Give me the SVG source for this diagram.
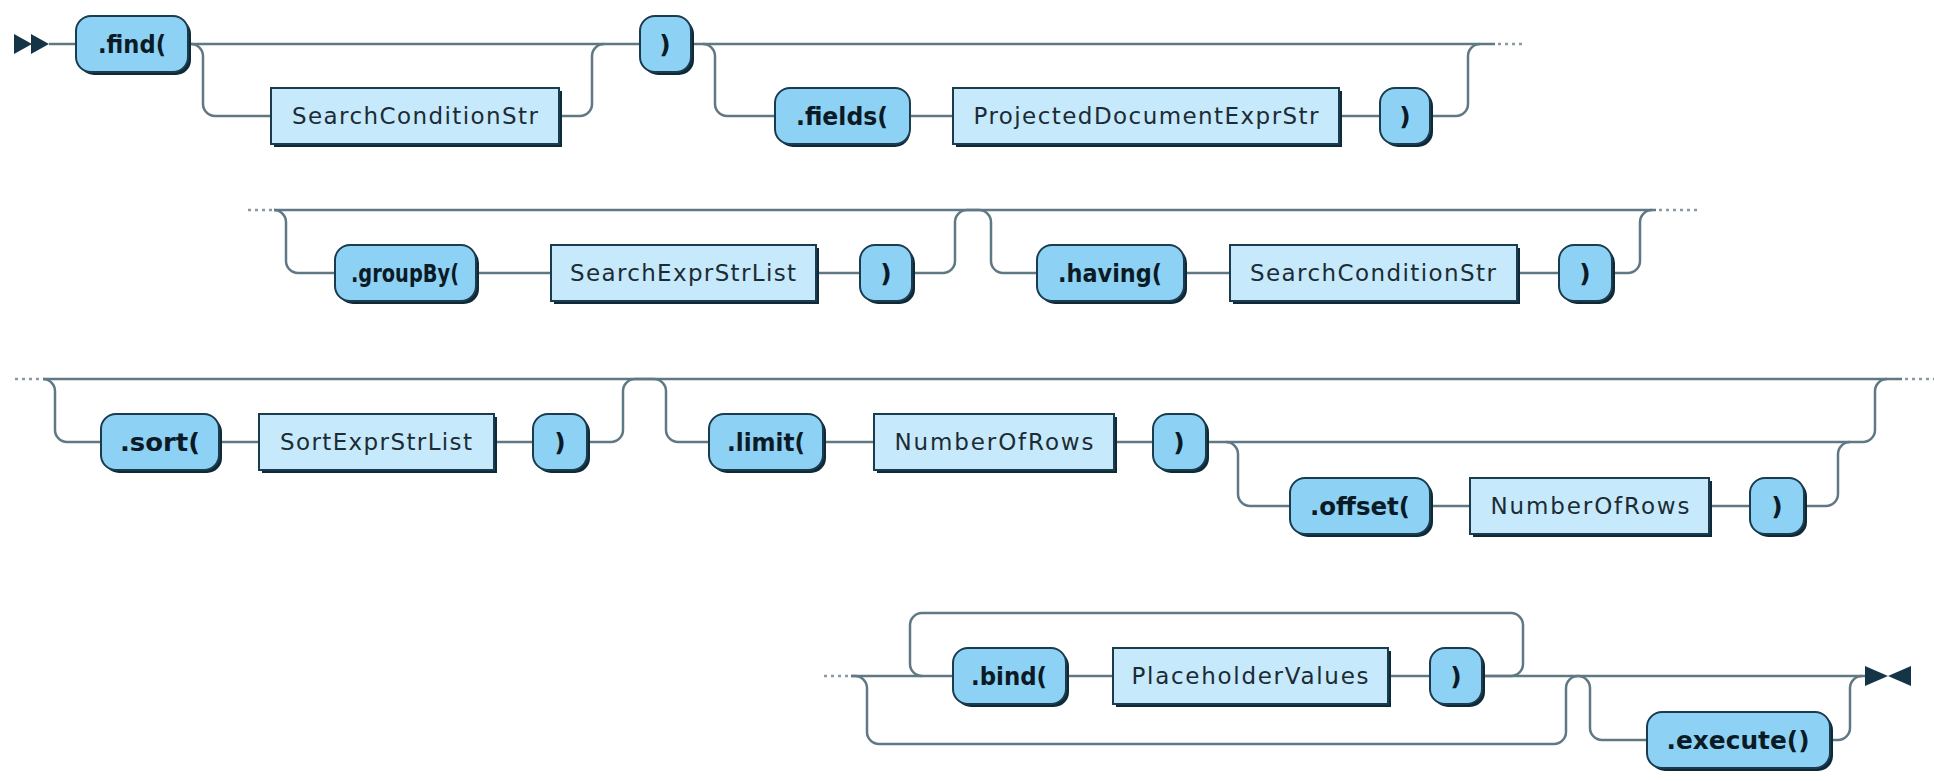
<svg xmlns="http://www.w3.org/2000/svg" width="1934" height="781" viewBox="0 0 1934 781">
  <style>
    .line { fill: none; stroke: #5f7883; stroke-width: 2.5; }
    .dots { fill: none; stroke: #8a9aa2; stroke-width: 2.5; stroke-dasharray: 3 4; }
    .shadow { fill: #0e2a39; }
    .terminal { fill: #8dd1f5; stroke: #1a3c4e; stroke-width: 2; }
    .nonterminal { fill: #c6e9fb; stroke: #1a3c4e; stroke-width: 2; }
    .tt { font-family: "DejaVu Sans", "Liberation Sans", sans-serif; font-weight: bold; font-size: 25px; fill: #0b1b25; text-anchor: middle; }
    .nt { font-family: "DejaVu Sans", "Liberation Sans", sans-serif; font-size: 23px; fill: #1c2c35; text-anchor: middle; }
    .mark { fill: #153446; }
  </style>
  <rect width="1934" height="781" fill="#ffffff"/>

  <!-- connectors -->
  <g id="connectors">
    <!-- row 1 -->
    <polygon class="mark" points="14,34 14,54 32,44"/>
    <polygon class="mark" points="31,34 31,54 49,44"/>
    <path class="line" d="M49 44 H76"/>
    <path class="line" d="M188 44 H640"/>
    <path class="line" d="M191 44 a12 12 0 0 1 12 12 v48 a12 12 0 0 0 12 12 H271"/>
    <path class="line" d="M559 116 H580 a12 12 0 0 0 12 -12 v-48 a12 12 0 0 1 12 -12"/>
    <path class="line" d="M691 44 H1495"/>
    <path class="line" d="M703 44 a12 12 0 0 1 12 12 v48 a12 12 0 0 0 12 12 H775"/>
    <path class="line" d="M910 116 H953"/>
    <path class="line" d="M1339 116 H1380"/>
    <path class="line" d="M1430 116 H1456 a12 12 0 0 0 12 -12 v-48 a12 12 0 0 1 12 -12"/>
    <path class="dots" d="M1498 44 H1522"/>

    <!-- row 2 -->
    <path class="dots" d="M248 210 H272"/>
    <path class="line" d="M274 210 H1656"/>
    <path class="line" d="M274 210 a12 12 0 0 1 12 12 v39 a12 12 0 0 0 12 12 H335"/>
    <path class="line" d="M476 273 H551"/>
    <path class="line" d="M816 273 H860"/>
    <path class="line" d="M912 273 H943 a12 12 0 0 0 12 -12 v-39 a12 12 0 0 1 12 -12 H979 a12 12 0 0 1 12 12 v39 a12 12 0 0 0 12 12 H1037"/>
    <path class="line" d="M1184 273 H1230"/>
    <path class="line" d="M1517 273 H1559"/>
    <path class="line" d="M1612 273 H1628 a12 12 0 0 0 12 -12 v-39 a12 12 0 0 1 12 -12"/>
    <path class="dots" d="M1659 210 H1700"/>

    <!-- row 3 -->
    <path class="dots" d="M15 379 H41"/>
    <path class="line" d="M43 379 H1902"/>
    <path class="line" d="M43 379 a12 12 0 0 1 12 12 v39 a12 12 0 0 0 12 12 H101"/>
    <path class="line" d="M219 442 H259"/>
    <path class="line" d="M494 442 H533"/>
    <path class="line" d="M587 442 H611 a12 12 0 0 0 12 -12 v-39 a12 12 0 0 1 12 -12 H654 a12 12 0 0 1 12 12 v39 a12 12 0 0 0 12 12 H709"/>
    <path class="line" d="M823 442 H874"/>
    <path class="line" d="M1114 442 H1153"/>
    <path class="line" d="M1206 442 H1863 a12 12 0 0 0 12 -12 v-39 a12 12 0 0 1 12 -12"/>
    <path class="line" d="M1226 442 a12 12 0 0 1 12 12 v40 a12 12 0 0 0 12 12 H1290"/>
    <path class="line" d="M1430 506 H1470"/>
    <path class="line" d="M1709 506 H1750"/>
    <path class="line" d="M1804 506 H1826 a12 12 0 0 0 12 -12 v-40 a12 12 0 0 1 12 -12"/>
    <path class="dots" d="M1905 379 H1934"/>

    <!-- row 4 -->
    <path class="dots" d="M824 676 H850"/>
    <path class="line" d="M851 676 H953"/>
    <path class="line" d="M851 676 H855 a12 12 0 0 1 12 12 v44 a12 12 0 0 0 12 12 H1554 a12 12 0 0 0 12 -12 v-44 a12 12 0 0 1 12 -12"/>
    <path class="line" d="M1482 676 H1511 a12 12 0 0 0 12 -12 v-39 a12 12 0 0 0 -12 -12 H922 a12 12 0 0 0 -12 12 v39 a12 12 0 0 0 12 12"/>
    <path class="line" d="M1066 676 H1113"/>
    <path class="line" d="M1388 676 H1430"/>
    <path class="line" d="M1482 676 H1865"/>
    <path class="line" d="M1578 676 a12 12 0 0 1 12 12 v40 a12 12 0 0 0 12 12 H1647"/>
    <path class="line" d="M1830 740 H1838 a12 12 0 0 0 12 -12 v-40 a12 12 0 0 1 12 -12"/>
    <polygon class="mark" points="1865,666 1865,686 1888,676"/>
    <polygon class="mark" points="1911,666 1911,686 1888,676"/>
  </g>

  <!-- row 1 nodes -->
  <g id="find">
    <rect class="shadow" x="79" y="19" width="112" height="56" rx="15"/>
    <rect class="terminal" x="76" y="16" width="112" height="56" rx="15"/>
    <text class="tt" x="132" y="53" textLength="68" lengthAdjust="spacingAndGlyphs">.find(</text>
  </g>
  <g id="searchCondition1">
    <rect class="shadow" x="274" y="91" width="288" height="56"/>
    <rect class="nonterminal" x="271" y="88" width="288" height="56"/>
    <text class="nt" x="415" y="124" textLength="246">SearchConditionStr</text>
  </g>
  <g id="findClose">
    <rect class="shadow" x="643" y="19" width="51" height="56" rx="15"/>
    <rect class="terminal" x="640" y="16" width="51" height="56" rx="15"/>
    <text class="tt" x="665" y="53">)</text>
  </g>
  <g id="fields">
    <rect class="shadow" x="778" y="91" width="132" height="56" rx="15"/>
    <rect class="terminal" x="775" y="88" width="135" height="56" rx="15"/>
    <text class="tt" x="842" y="125" textLength="92" lengthAdjust="spacingAndGlyphs">.fields(</text>
  </g>
  <g id="projectedDocument">
    <rect class="shadow" x="956" y="91" width="386" height="56"/>
    <rect class="nonterminal" x="953" y="88" width="386" height="56"/>
    <text class="nt" x="1146" y="124" textLength="345">ProjectedDocumentExprStr</text>
  </g>
  <g id="fieldsClose">
    <rect class="shadow" x="1383" y="91" width="50" height="56" rx="15"/>
    <rect class="terminal" x="1380" y="88" width="50" height="56" rx="15"/>
    <text class="tt" x="1405" y="125">)</text>
  </g>

  <!-- row 2 nodes -->
  <g id="groupBy">
    <rect class="shadow" x="338" y="248" width="141" height="56" rx="15"/>
    <rect class="terminal" x="335" y="245" width="141" height="56" rx="15"/>
    <text class="tt" x="405" y="282" textLength="108" lengthAdjust="spacingAndGlyphs">.groupBy(</text>
  </g>
  <g id="searchExprList">
    <rect class="shadow" x="554" y="248" width="265" height="56"/>
    <rect class="nonterminal" x="551" y="245" width="265" height="56"/>
    <text class="nt" x="683" y="281" textLength="226">SearchExprStrList</text>
  </g>
  <g id="groupByClose">
    <rect class="shadow" x="863" y="248" width="52" height="56" rx="15"/>
    <rect class="terminal" x="860" y="245" width="52" height="56" rx="15"/>
    <text class="tt" x="886" y="282">)</text>
  </g>
  <g id="having">
    <rect class="shadow" x="1040" y="248" width="147" height="56" rx="15"/>
    <rect class="terminal" x="1037" y="245" width="147" height="56" rx="15"/>
    <text class="tt" x="1110" y="282" textLength="104" lengthAdjust="spacingAndGlyphs">.having(</text>
  </g>
  <g id="searchCondition2">
    <rect class="shadow" x="1233" y="248" width="287" height="56"/>
    <rect class="nonterminal" x="1230" y="245" width="287" height="56"/>
    <text class="nt" x="1373" y="281" textLength="246">SearchConditionStr</text>
  </g>
  <g id="havingClose">
    <rect class="shadow" x="1562" y="248" width="53" height="56" rx="15"/>
    <rect class="terminal" x="1559" y="245" width="53" height="56" rx="15"/>
    <text class="tt" x="1585" y="282">)</text>
  </g>

  <!-- row 3 nodes -->
  <g id="sort">
    <rect class="shadow" x="104" y="417" width="118" height="56" rx="15"/>
    <rect class="terminal" x="101" y="414" width="118" height="56" rx="15"/>
    <text class="tt" x="160" y="451" textLength="80" lengthAdjust="spacingAndGlyphs">.sort(</text>
  </g>
  <g id="sortExprList">
    <rect class="shadow" x="262" y="417" width="235" height="56"/>
    <rect class="nonterminal" x="259" y="414" width="235" height="56"/>
    <text class="nt" x="376" y="450" textLength="192">SortExprStrList</text>
  </g>
  <g id="sortClose">
    <rect class="shadow" x="536" y="417" width="54" height="56" rx="15"/>
    <rect class="terminal" x="533" y="414" width="54" height="56" rx="15"/>
    <text class="tt" x="560" y="451">)</text>
  </g>
  <g id="limit">
    <rect class="shadow" x="712" y="417" width="114" height="56" rx="15"/>
    <rect class="terminal" x="709" y="414" width="114" height="56" rx="15"/>
    <text class="tt" x="766" y="451" textLength="78" lengthAdjust="spacingAndGlyphs">.limit(</text>
  </g>
  <g id="limitRows">
    <rect class="shadow" x="877" y="417" width="240" height="56"/>
    <rect class="nonterminal" x="874" y="414" width="240" height="56"/>
    <text class="nt" x="994" y="450" textLength="199">NumberOfRows</text>
  </g>
  <g id="limitClose">
    <rect class="shadow" x="1156" y="417" width="53" height="56" rx="15"/>
    <rect class="terminal" x="1153" y="414" width="53" height="56" rx="15"/>
    <text class="tt" x="1179" y="451">)</text>
  </g>
  <g id="offset">
    <rect class="shadow" x="1293" y="481" width="140" height="56" rx="15"/>
    <rect class="terminal" x="1290" y="478" width="140" height="56" rx="15"/>
    <text class="tt" x="1360" y="515" textLength="100" lengthAdjust="spacingAndGlyphs">.offset(</text>
  </g>
  <g id="offsetRows">
    <rect class="shadow" x="1473" y="481" width="239" height="56"/>
    <rect class="nonterminal" x="1470" y="478" width="239" height="56"/>
    <text class="nt" x="1590" y="514" textLength="199">NumberOfRows</text>
  </g>
  <g id="offsetClose">
    <rect class="shadow" x="1753" y="481" width="54" height="56" rx="15"/>
    <rect class="terminal" x="1750" y="478" width="54" height="56" rx="15"/>
    <text class="tt" x="1777" y="515">)</text>
  </g>

  <!-- row 4 nodes -->
  <g id="bind">
    <rect class="shadow" x="956" y="651" width="113" height="56" rx="15"/>
    <rect class="terminal" x="953" y="648" width="113" height="56" rx="15"/>
    <text class="tt" x="1009" y="685" textLength="76" lengthAdjust="spacingAndGlyphs">.bind(</text>
  </g>
  <g id="placeholderValues">
    <rect class="shadow" x="1116" y="651" width="275" height="56"/>
    <rect class="nonterminal" x="1113" y="648" width="275" height="56"/>
    <text class="nt" x="1250" y="684" textLength="237">PlaceholderValues</text>
  </g>
  <g id="bindClose">
    <rect class="shadow" x="1433" y="651" width="52" height="56" rx="15"/>
    <rect class="terminal" x="1430" y="648" width="52" height="56" rx="15"/>
    <text class="tt" x="1456" y="685">)</text>
  </g>
  <g id="execute">
    <rect class="shadow" x="1650" y="715" width="183" height="56" rx="15"/>
    <rect class="terminal" x="1647" y="712" width="183" height="56" rx="15"/>
    <text class="tt" x="1738" y="749" textLength="143" lengthAdjust="spacingAndGlyphs">.execute()</text>
  </g>
</svg>
